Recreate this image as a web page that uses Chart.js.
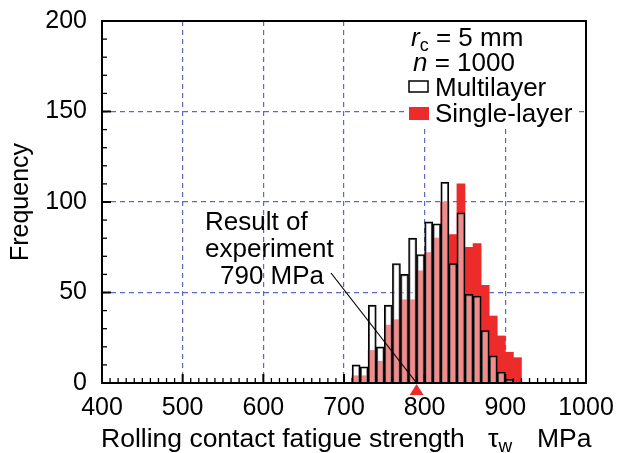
<!DOCTYPE html>
<html>
<head>
<meta charset="utf-8">
<script src="https://cdn.jsdelivr.net/npm/chart.js@4.4.1/dist/chart.umd.min.js"></script>
<style>
  html, body { margin: 0; padding: 0; background: #fff; }
</style>
</head>
<body>
<canvas id="c" width="618" height="453"></canvas>
<script>
// histogram bins (lower edge, MPa) and counts
const binStart = [710, 720, 730, 740, 750, 760, 770, 780, 790, 800, 810, 820, 830, 840, 850, 860, 870, 880, 890, 900, 910];
const binWidth = 10;
const multilayer = [10, 9, 43, 20, 43, 66, 60, 80, 71, 89, 88, 111, 66, 94, 49, 48, 29, 15, 6, 2, null];
const singleLayer = [4, 4, 18, 12, 32, 35, 46, 46, 62, 72, 80, 100, 82, 110, 75, 77, 54, 37, 26, 17, 14];
const seriesNames = ['Multilayer', 'Single-layer'];

const xMin = 400, xMax = 1000, xStep = 100, xMinor = 10;
const yMin = 0, yMax = 200, yStep = 50, yMinor = 10;

const experiment = 790;
const noteLines = ['Result of', 'experiment', '790 MPa'];
const radiusText = ' = 5 mm';
const countText = ' = 1000';

const FONT = '"Liberation Sans", Arial, Helvetica, sans-serif';
const RED = '#ee2b2b';
const GRID = '#5a6cbf';

Chart.defaults.font.family = FONT;
Chart.defaults.color = '#000';

function toPoints(vals) {
    return binStart.map((b, i) => ({ x: b + binWidth / 2, y: vals[i] }));
}

const decor = {
    id: 'decor',
    afterDatasetsDraw(chart) {
        const { ctx, chartArea: a, scales: { x, y } } = chart;
        ctx.save();
        ctx.strokeStyle = '#000';

        // inward ticks
        for (let v = xMin + xMinor; v < xMax; v += xMinor) {
            const px = x.getPixelForValue(v);
            const major = v % xStep === 0;
            ctx.lineWidth = major ? 2 : 1.3;
            ctx.beginPath();
            ctx.moveTo(px, a.bottom);
            ctx.lineTo(px, a.bottom - (major ? 9 : 5));
            ctx.stroke();
        }
        for (let v = yMin + yMinor; v < yMax; v += yMinor) {
            const py = y.getPixelForValue(v);
            const major = v % yStep === 0;
            ctx.lineWidth = major ? 2 : 1.3;
            ctx.beginPath();
            ctx.moveTo(a.left, py);
            ctx.lineTo(a.left + (major ? 9 : 5), py);
            ctx.stroke();
        }

        // frame
        ctx.lineWidth = 2;
        ctx.strokeRect(a.left, a.top, a.right - a.left, a.bottom - a.top);

        // legend box
        ctx.fillStyle = '#fff';
        ctx.fillRect(a.right - 182, a.top + 1, 174, 105);
        ctx.fillStyle = '#000';
        ctx.textBaseline = 'alphabetic';
        ctx.textAlign = 'left';
        let lx = a.right - 175;
        ctx.font = 'italic 26px ' + FONT;
        ctx.fillText('r', lx, 46);
        let w = ctx.measureText('r').width;
        ctx.font = '18px ' + FONT;
        ctx.fillText('c', lx + w, 51);
        w += ctx.measureText('c').width;
        ctx.font = '26px ' + FONT;
        ctx.fillText(radiusText, lx + w, 46);

        ctx.font = 'italic 26px ' + FONT;
        ctx.fillText('n', lx + 2, 71);
        w = ctx.measureText('n').width;
        ctx.font = '26px ' + FONT;
        ctx.fillText(countText, lx + 2 + w, 71);

        const bx = a.right - 177;
        ctx.lineWidth = 1.5;
        ctx.fillStyle = '#fff';
        ctx.fillRect(bx, 81, 19, 11);
        ctx.strokeRect(bx, 81, 19, 11);
        ctx.fillStyle = RED;
        ctx.fillRect(bx, 107, 20, 13);
        ctx.fillStyle = '#000';
        ctx.fillText(seriesNames[0], bx + 26, 96);
        ctx.fillText(seriesNames[1], bx + 26, 122);

        // annotation
        ctx.font = '26px ' + FONT;
        ctx.fillText(noteLines[0], 205, 230);
        ctx.fillText(noteLines[1], 205, 257);
        ctx.fillText(noteLines[2], 220, 284);
        ctx.lineWidth = 1.2;
        ctx.beginPath();
        ctx.moveTo(331, 273);
        ctx.lineTo(x.getPixelForValue(experiment), a.bottom);
        ctx.stroke();
        ctx.restore();
    },
    afterDraw(chart) {
        const { ctx, chartArea: a, scales: { x } } = chart;
        ctx.save();
        // experiment marker below the axis
        const ex = x.getPixelForValue(experiment);
        ctx.fillStyle = RED;
        ctx.beginPath();
        ctx.moveTo(ex, a.bottom + 1);
        ctx.lineTo(ex + 7, a.bottom + 12);
        ctx.lineTo(ex - 7, a.bottom + 12);
        ctx.closePath();
        ctx.fill();

        // x axis title with subscript
        ctx.fillStyle = '#000';
        ctx.textAlign = 'left';
        ctx.textBaseline = 'alphabetic';
        ctx.font = '26.5px ' + FONT;
        ctx.fillText('Rolling contact fatigue strength', 101, 447);
        ctx.fillText('\u03c4', 488, 447);
        const tw = ctx.measureText('\u03c4').width;
        ctx.font = '19px ' + FONT;
        ctx.fillText('w', 488 + tw, 452);
        ctx.font = '26.5px ' + FONT;
        ctx.fillText('MPa', 537, 447);
        ctx.restore();
    }
};

new Chart(document.getElementById('c').getContext('2d'), {
    type: 'bar',
    data: {
        datasets: [
            {
                label: seriesNames[0],
                data: toPoints(multilayer),
                backgroundColor: 'rgba(255,255,255,0.45)',
                borderColor: '#000',
                borderWidth: 1.5,
                borderSkipped: 'start',
                grouped: false,
                barPercentage: 1,
                categoryPercentage: 1
            },
            {
                label: seriesNames[1],
                data: toPoints(singleLayer),
                backgroundColor: RED,
                borderWidth: 0,
                grouped: false,
                barPercentage: 1,
                categoryPercentage: 1
            }
        ]
    },
    options: {
        responsive: false,
        animation: false,
        devicePixelRatio: 1,
        layout: { padding: { top: 21, right: 32, left: 0, bottom: 0 } },
        plugins: {
            legend: { display: false },
            tooltip: { enabled: false }
        },
        scales: {
            x: {
                type: 'linear',
                min: xMin,
                max: xMax,
                offset: false,
                ticks: { stepSize: xStep, font: { size: 25 }, padding: 10, maxRotation: 0, autoSkip: false, color: '#000', callback: v => String(v) },
                grid: {
                    offset: false,
                    drawTicks: false,
                    lineWidth: 1.2,
                    color: c => (c.tick && c.tick.value > xMin && c.tick.value < xMax) ? GRID : 'rgba(0,0,0,0)'
                },
                border: { display: false, dash: [5, 4] },
                afterFit: s => { s.height = 70; s.paddingLeft = 0; s.paddingRight = 0; }
            },
            y: {
                min: yMin,
                max: yMax,
                ticks: { stepSize: yStep, font: { size: 25 }, padding: 15, color: '#000' },
                grid: {
                    drawTicks: false,
                    lineWidth: 1.2,
                    color: c => (c.tick && c.tick.value > yMin && c.tick.value < yMax) ? GRID : 'rgba(0,0,0,0)'
                },
                border: { display: false, dash: [5, 4] },
                title: { display: true, text: 'Frequency', font: { size: 25 }, padding: { top: 6, bottom: 0 }, color: '#000' },
                afterFit: s => { s.width = 102; s.paddingTop = 0; s.paddingBottom = 0; }
            }
        }
    },
    plugins: [decor]
});
</script>
</body>
</html>
